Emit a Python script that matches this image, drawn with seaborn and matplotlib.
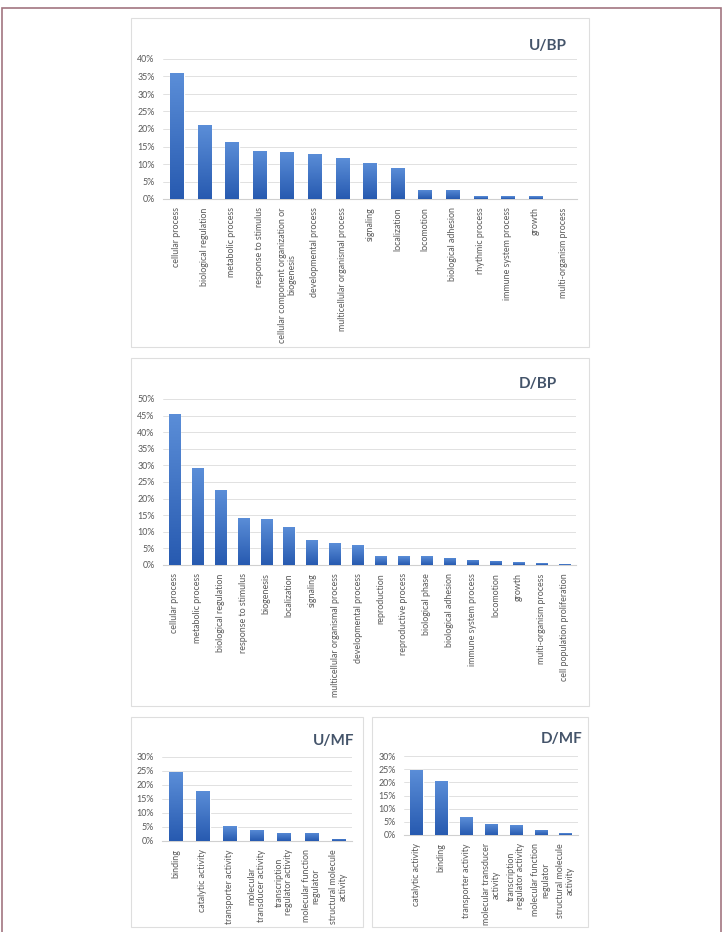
import numpy as np
import pandas as pd
import matplotlib
matplotlib.use("Agg")
import matplotlib.pyplot as plt
import seaborn as sns
from matplotlib.patches import Rectangle
from matplotlib.ticker import PercentFormatter, MultipleLocator
from matplotlib.colors import LinearSegmentedColormap

# --- data (shares of genes per GO term) ---
u_bp_terms = [
    "cellular process", "biological regulation", "metabolic process",
    "response to stimulus", "cellular component organization or\nbiogenesis",
    "developmental process", "multicellular organismal process", "signaling",
    "localization", "locomotion", "biological adhesion", "rhythmic process",
    "immune system process", "growth", "multi-organism process",
]
u_bp_values = [0.360, 0.211, 0.164, 0.138, 0.135, 0.130, 0.117, 0.104,
               0.089, 0.027, 0.027, 0.008, 0.008, 0.008, 0.0]

d_bp_terms = [
    "cellular process", "metabolic process", "biological regulation",
    "response to stimulus", "biogenesis", "localization", "signaling",
    "multicellular organismal process", "developmental process", "reproduction",
    "reproductive process", "biological phase", "biological adhesion",
    "immune system process", "locomotion", "growth", "multi-organism process",
    "cell population proliferation",
]
d_bp_values = [0.456, 0.292, 0.226, 0.142, 0.138, 0.115, 0.076, 0.065,
               0.059, 0.026, 0.026, 0.026, 0.022, 0.016, 0.013, 0.009,
               0.005, 0.002]

u_mf_terms = [
    "binding", "catalytic activity", "transporter activity",
    "molecular\ntransducer activity", "transcription\nregulator activity",
    "molecular function\nregulator", "structural molecule\nactivity",
]
u_mf_values = [0.245, 0.180, 0.053, 0.040, 0.030, 0.030, 0.008]

d_mf_terms = [
    "catalytic activity", "binding", "transporter activity",
    "molecular transducer\nactivity", "transcription\nregulator activity",
    "molecular function\nregulator", "structural molecule\nactivity",
]
d_mf_values = [0.247, 0.206, 0.067, 0.043, 0.037, 0.019, 0.006]

sns.set_theme(style="white")
plt.rcParams['font.family'] = ['Lato', 'DejaVu Sans']

W, H = 725, 932
fig = plt.figure(figsize=(W / 100, H / 100), dpi=100)

bar_cmap = LinearSegmentedColormap.from_list("excel_blue", ["#275ab0", "#5b8ed8"])
grad = np.linspace(0, 1, 128).reshape(-1, 1)


def fig_rect(x0, y0, x1, y1):
    # pixel box (top-left origin) -> figure fraction [left, bottom, w, h]
    return [x0 / W, 1 - y1 / H, (x1 - x0) / W, (y1 - y0) / H]


def draw_panel(frame, axes_box, terms, values, ymax, title, title_xy):
    l, b, w, h = fig_rect(*frame)
    fig.add_artist(Rectangle((l, b), w, h, transform=fig.transFigure,
                             facecolor="white", edgecolor="#dedede", lw=0.8, zorder=0))

    ax = fig.add_axes(fig_rect(*axes_box))
    ax.patch.set_alpha(0)
    df = pd.DataFrame({"term": terms, "share": values})
    sns.barplot(data=df, x="term", y="share", color="#3a6cc0", width=0.5,
                ax=ax, zorder=3)

    # gradient fill like the original Excel bars
    for p in list(ax.patches):
        x = p.get_x()
        bw, bh = p.get_width(), p.get_height()
        if bh <= 0:
            continue
        im = ax.imshow(grad, extent=[x, x + bw, 0, bh], origin="lower",
                       cmap=bar_cmap, aspect="auto", zorder=4)
        im.set_clip_path(p)

    ax.set_xlim(-0.5, len(terms) - 0.5)
    ax.set_ylim(0, ymax)
    ax.yaxis.set_major_locator(MultipleLocator(0.05))
    ax.yaxis.set_major_formatter(PercentFormatter(1.0, decimals=0))
    ax.grid(axis="y", color="#dcdcdc", lw=0.6)
    ax.set_axisbelow(True)
    for side in ["top", "right", "left"]:
        ax.spines[side].set_visible(False)
    ax.spines["bottom"].set_color("#d0d0d0")
    ax.spines["bottom"].set_linewidth(0.8)
    ax.set_xlabel("")
    ax.set_ylabel("")

    ax.set_xticks(range(len(terms)))
    ax.set_xticklabels(terms, rotation=90, ha="center", va="top",
                       multialignment="center", linespacing=1.1)
    ax.tick_params(axis="both", length=0, labelsize=6.4, colors="#595959")
    ax.tick_params(axis="x", pad=6)
    ax.tick_params(axis="y", pad=6)

    fig.text(title_xy[0] / W, 1 - title_xy[1] / H, title, ha="center",
             va="center", fontsize=11, fontweight="bold", color="#44546a")
    return ax


draw_panel((131, 18, 589, 347), (163, 59, 577, 199), u_bp_terms, u_bp_values,
           0.40, "U/BP", (548, 46))
draw_panel((131, 358, 589, 706), (163, 399, 576, 565), d_bp_terms, d_bp_values,
           0.50, "D/BP", (538, 384))
draw_panel((131, 717, 363, 927), (162, 757, 352, 841), u_mf_terms, u_mf_values,
           0.30, "U/MF", (334, 741))
draw_panel((372, 717, 588, 927), (404, 756, 578, 835), d_mf_terms, d_mf_values,
           0.30, "D/MF", (562, 739))

# outer page frame (runs off the bottom edge)
fig.add_artist(Rectangle((2 / W, -0.05), 719 / W, 1.05 - 8 / H,
                         transform=fig.transFigure, fill=False,
                         edgecolor="#a27580", lw=1.2, zorder=0))

fig.savefig("out.png", dpi=100)
